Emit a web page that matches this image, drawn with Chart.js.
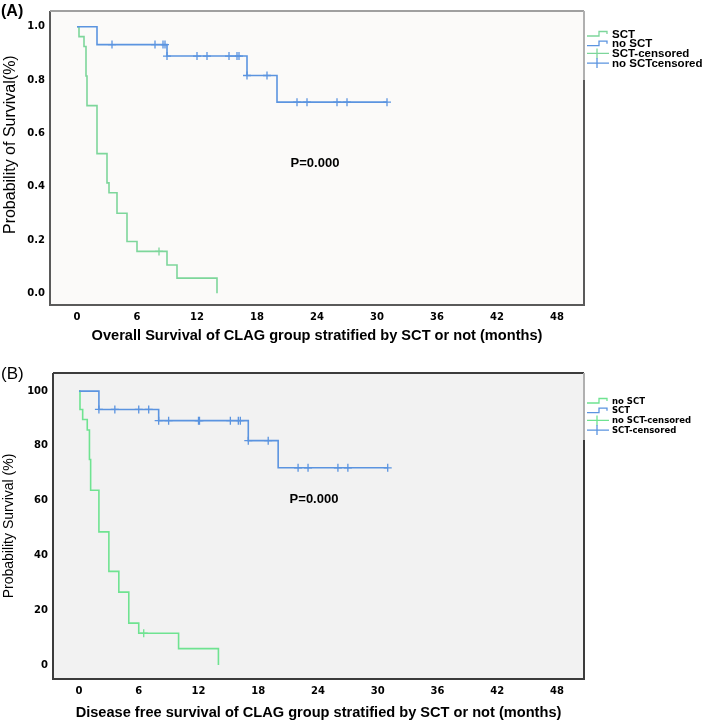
<!DOCTYPE html>
<html>
<head>
<meta charset="utf-8">
<script src="https://cdn.jsdelivr.net/npm/chart.js@4.4.0/dist/chart.umd.min.js"></script>
<style>
body { margin: 0; background: #fff; }
#wrap { position: relative; width: 709px; height: 722px; }
canvas { position: absolute; left: 0; }
</style>
</head>
<body>
<div id="wrap">
<canvas id="chart-a" width="709" height="345" style="top:0px"></canvas>
<canvas id="chart-b" width="709" height="377" style="top:345px"></canvas>
</div>
<script>
// ---- shared ----
var month_ticks = [0, 6, 12, 18, 24, 30, 36, 42, 48];

// ---- (A) overall survival ----
var os_sct_time = [0, 0.2, 0.7, 0.9, 1.0, 2.0, 3.0, 3.2, 4.0, 5.0, 6.0, 9.0, 10.0, 14.0];
var os_sct_surv = [1.0, 0.963, 0.926, 0.815, 0.704, 0.524, 0.414, 0.377, 0.30, 0.194, 0.157, 0.106, 0.057, 0.0];
var os_nosct_time = [0, 2.0, 9.0, 17.0, 20.0, 31.0];
var os_nosct_surv = [1.0, 0.933, 0.89, 0.817, 0.717, 0.717];
var os_sct_cens_time = [8.2];
var os_sct_cens_surv = [0.157];
var os_nosct_cens_time = [3.5, 7.8, 8.6, 8.8, 9.0, 12.0, 13.0, 15.2, 16.0, 16.2, 17.0, 19.0, 22.0, 23.0, 26.0, 27.0, 31.0];
var os_nosct_cens_surv = [0.933, 0.933, 0.933, 0.933, 0.89, 0.89, 0.89, 0.89, 0.89, 0.89, 0.817, 0.817, 0.717, 0.717, 0.717, 0.717, 0.717];
var os_y_ticks = [0, 0.2, 0.4, 0.6, 0.8, 1.0];
var os_legend = ["SCT", "no SCT", "SCT-censored", "no SCTcensored"];

// ---- (B) disease free survival ----
var dfs_nosct_time = [0, 0.1, 0.37, 0.83, 1.05, 1.17, 2.0, 3.0, 4.0, 5.0, 6.0, 10.0, 14.0];
var dfs_nosct_surv = [100, 93.3, 89.6, 85.8, 75.0, 63.8, 48.6, 34.2, 26.6, 15.3, 11.6, 6.0, 0];
var dfs_sct_time = [0, 2.0, 8.0, 17.0, 20.0, 31.0];
var dfs_sct_surv = [100, 93.3, 89.2, 81.9, 72.0, 72.0];
var dfs_nosct_cens_time = [6.5];
var dfs_nosct_cens_surv = [11.6];
var dfs_sct_cens_time = [2.0, 3.6, 6.0, 7.0, 8.0, 9.0, 12.0, 12.1, 15.2, 16.0, 16.2, 17.0, 19.0, 22.0, 23.0, 26.0, 27.0, 31.0];
var dfs_sct_cens_surv = [93.3, 93.3, 93.3, 93.3, 89.2, 89.2, 89.2, 89.2, 89.2, 89.2, 89.2, 81.9, 81.9, 72.0, 72.0, 72.0, 72.0, 72.0];
var dfs_y_ticks = [0, 20, 40, 60, 80, 100];
var dfs_legend = ["no SCT", "SCT", "no SCT-censored", "SCT-censored"];

function points(xs, ys) {
    var out = [];
    for (let i = 0; i < xs.length; i++) {
        out.push({ x: xs[i], y: ys[i] });
    }
    return out;
}

// background, frame, legend, p-value and panel letter
var panelPlugin = {
    id: "panel",
    beforeDraw: function(chart, args, o) {
        var a = chart.chartArea;
        var ctx = chart.ctx;
        ctx.save();
        ctx.fillStyle = o.bg;
        ctx.fillRect(a.left, a.top, a.right - a.left, a.bottom - a.top);
        ctx.restore();
    },
    afterDraw: function(chart, args, o) {
        var a = chart.chartArea;
        var ctx = chart.ctx;
        ctx.save();
        // frame
        ctx.lineWidth = 2;
        ctx.strokeStyle = o.frameDark;
        ctx.beginPath();
        ctx.moveTo(a.left, a.top);
        ctx.lineTo(a.left, a.bottom);
        ctx.lineTo(a.right, a.bottom);
        ctx.lineTo(a.right, o.legendBottom);
        ctx.stroke();
        ctx.strokeStyle = o.frameTop;
        ctx.beginPath();
        ctx.moveTo(a.left, a.top);
        ctx.lineTo(a.right, a.top);
        ctx.stroke();
        ctx.strokeStyle = "#b0b0b0";
        ctx.beginPath();
        ctx.moveTo(a.right, a.top);
        ctx.lineTo(a.right, o.legendBottom);
        ctx.stroke();

        // legend
        var colors = [o.green, o.blue, o.green, o.blue];
        ctx.font = o.legendFont;
        ctx.textBaseline = "middle";
        ctx.textAlign = "left";
        for (let i = 0; i < o.labels.length; i++) {
            var y = o.legendTop + i * o.legendStep;
            var x0 = a.right + 3;
            ctx.strokeStyle = colors[i];
            ctx.lineWidth = 1.3;
            ctx.beginPath();
            if (i < 2) {
                ctx.moveTo(x0, y + 2);
                ctx.lineTo(x0 + 12, y + 2);
                ctx.lineTo(x0 + 12, y - 2.5);
                ctx.lineTo(x0 + 20, y - 2.5);
                ctx.lineTo(x0 + 20, y);
            } else {
                ctx.moveTo(x0, y);
                ctx.lineTo(x0 + 22, y);
                ctx.moveTo(x0 + 10, y - 5);
                ctx.lineTo(x0 + 10, y + 5);
            }
            ctx.stroke();
            ctx.fillStyle = "#000";
            ctx.fillText(o.labels[i], a.right + 28, y + 0.5);
        }

        // p value
        ctx.font = "bold 13px 'Liberation Sans', Arial, sans-serif";
        ctx.textAlign = "center";
        ctx.fillText(o.pText, chart.scales.x.getPixelForValue(o.pAt[0]), chart.scales.y.getPixelForValue(o.pAt[1]));

        // panel letter
        ctx.font = o.letterFont;
        ctx.textAlign = "left";
        ctx.fillText(o.letter, 1, o.letterY);
        ctx.restore();
    }
};

function makeChart(id, cfg) {
    var ctx = document.getElementById(id).getContext("2d");
    return new Chart(ctx, {
        type: "scatter",
        data: {
            datasets: [{
                label: cfg.legend[3],
                data: points(cfg.blueCensX, cfg.blueCensY),
                pointStyle: "cross",
                pointRadius: 4,
                borderColor: cfg.blue,
                borderWidth: 1.3,
                showLine: false,
            }, {
                label: cfg.legend[2],
                data: points(cfg.greenCensX, cfg.greenCensY),
                pointStyle: "cross",
                pointRadius: 4,
                borderColor: cfg.green,
                borderWidth: 1.3,
                showLine: false,
            }, {
                label: cfg.legend[1],
                data: points(cfg.blueX, cfg.blueY),
                showLine: true,
                stepped: true,
                borderColor: cfg.blue,
                borderWidth: 1.6,
                pointRadius: 0,
            }, {
                label: cfg.legend[0],
                data: points(cfg.greenX, cfg.greenY),
                showLine: true,
                stepped: true,
                borderColor: cfg.green,
                borderWidth: 1.6,
                pointRadius: 0,
            }, ],
        },
        options: {
            responsive: false,
            animation: false,
            layout: {
                padding: { top: cfg.top, right: 125, left: 0, bottom: 0 },
            },
            plugins: {
                legend: { display: false },
                tooltip: { enabled: false },
                panel: {
                    bg: cfg.bg,
                    frameDark: cfg.frameDark,
                    frameTop: cfg.frameTop,
                    green: cfg.green,
                    blue: cfg.blue,
                    labels: cfg.legend,
                    legendFont: cfg.legendFont,
                    legendTop: cfg.legendTop,
                    legendStep: cfg.legendStep,
                    legendBottom: cfg.legendBottom,
                    pText: "P=0.000",
                    pAt: cfg.pAt,
                    letter: cfg.letter,
                    letterFont: cfg.letterFont,
                    letterY: cfg.letterY,
                },
            },
            scales: {
                x: {
                    type: "linear",
                    min: cfg.xMin,
                    max: cfg.xMax,
                    afterBuildTicks: function(s) {
                        s.ticks = month_ticks.map(function(v) { return { value: v }; });
                    },
                    afterFit: function(s) { s.height = cfg.xAxisH; },
                    grid: { display: false, drawTicks: false },
                    border: { display: false },
                    ticks: {
                        padding: 6,
                        color: "#000",
                        font: { family: "'DejaVu Sans', sans-serif", weight: "bold", size: 10 },
                    },
                    title: {
                        display: true,
                        text: cfg.xTitle,
                        color: "#000",
                        padding: 0,
                        font: { family: "'Liberation Sans', Arial, sans-serif", weight: "bold", size: 14.6 },
                    },
                },
                y: {
                    type: "linear",
                    min: cfg.yMin,
                    max: cfg.yMax,
                    afterBuildTicks: function(s) {
                        s.ticks = cfg.yTicks.map(function(v) { return { value: v }; });
                    },
                    afterFit: function(s) { s.width = cfg.yAxisW; },
                    grid: { display: false, drawTicks: false },
                    border: { display: false },
                    ticks: {
                        padding: 5,
                        color: "#000",
                        font: { family: "'DejaVu Sans', sans-serif", weight: "bold", size: 10 },
                        callback: cfg.tickFmt,
                    },
                    title: {
                        display: true,
                        text: cfg.yTitle,
                        color: "#000",
                        padding: { top: 1, bottom: 0 },
                        font: { family: "'Liberation Sans', Arial, sans-serif", size: cfg.yTitleSize },
                    },
                },
            },
        },
        plugins: [panelPlugin],
    });
}

makeChart("chart-a", {
    greenX: os_sct_time, greenY: os_sct_surv,
    blueX: os_nosct_time, blueY: os_nosct_surv,
    greenCensX: os_sct_cens_time, greenCensY: os_sct_cens_surv,
    blueCensX: os_nosct_cens_time, blueCensY: os_nosct_cens_surv,
    legend: os_legend,
    yTicks: os_y_ticks,
    tickFmt: function(v) { return v.toFixed(1); },
    xMin: -2.7, xMax: 50.7, yMin: -0.044, yMax: 1.059,
    top: 4, xAxisH: 40, yAxisW: 50,
    bg: "#fbfaf9", frameDark: "#5a5a5a", frameTop: "#a0a0a0",
    green: "#7dd69b", blue: "#5b94e0",
    legendFont: "bold 11.5px 'Liberation Sans', Arial, sans-serif",
    legendTop: 34, legendStep: 9.7, legendBottom: 80,
    pAt: [23.8, 0.487],
    letter: "(A)", letterFont: "bold 16px 'Liberation Sans', Arial, sans-serif", letterY: 12,
    xTitle: "Overall Survival of CLAG group stratified by SCT or not (months)",
    // leading spaces lift the rotated title like in the original
    yTitle: "      Probability of Survival(%)", yTitleSize: 16,
});

makeChart("chart-b", {
    greenX: dfs_nosct_time, greenY: dfs_nosct_surv,
    blueX: dfs_sct_time, blueY: dfs_sct_surv,
    greenCensX: dfs_nosct_cens_time, greenCensY: dfs_nosct_cens_surv,
    blueCensX: dfs_sct_cens_time, blueCensY: dfs_sct_cens_surv,
    legend: dfs_legend,
    yTicks: dfs_y_ticks,
    tickFmt: function(v) { return String(v); },
    xMin: -2.61, xMax: 50.71, yMin: -5.1, yMax: 106.6,
    top: 28, xAxisH: 43, yAxisW: 53,
    bg: "#f2f2f2", frameDark: "#3c3c3c", frameTop: "#3c3c3c",
    green: "#6fe391", blue: "#5b94e0",
    legendFont: "bold 8.5px 'DejaVu Sans', sans-serif",
    legendTop: 56, legendStep: 9.7, legendBottom: 95,
    pAt: [23.6, 60.6],
    letter: "(B)", letterFont: "17px 'Liberation Sans', Arial, sans-serif", letterY: 29,
    xTitle: "Disease free survival of CLAG group stratified by SCT or not (months)",
    yTitle: "Probability Survival (%)", yTitleSize: 14,
});
</script>
</body>
</html>
